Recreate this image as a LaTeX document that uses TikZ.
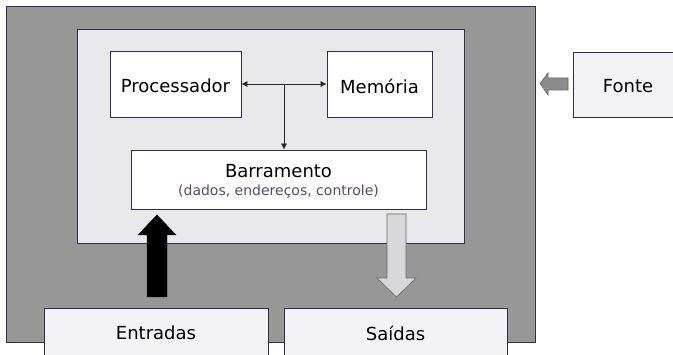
\documentclass[tikz,border=0pt]{standalone}
\usepackage{fontspec}
\setmainfont{DejaVu Sans}
\usetikzlibrary{arrows.meta,calc}
\definecolor{outerfill}{HTML}{979797}
\definecolor{innerfill}{HTML}{E9E8EA}
\definecolor{edge}{HTML}{2E2E48}
\definecolor{boxfill}{HTML}{FFFFFF}
\definecolor{lightbox}{HTML}{F3F3F5}
\definecolor{subtext}{HTML}{5A4868}
\definecolor{arrowgray}{HTML}{D8D8DA}
\begin{document}
\begin{tikzpicture}[x=1pt,y=-1pt,
  panel/.style={draw=edge, line width=0.8pt},
  unit/.style={draw=edge, line width=0.8pt, fill=boxfill, inner sep=0pt, font=\fontsize{18}{20}\selectfont},
  label/.style={font=\fontsize{18}{20}\selectfont, inner sep=0pt},
  thin/.style={draw=black!85, line width=0.6pt},
  tip/.style={-{Latex[length=6pt,width=6pt]}}]
\useasboundingbox (0,0) rectangle (673,355);
% outer system box
\filldraw[panel, fill=outerfill] (6,6) rectangle (535,342);
% inner board
\filldraw[panel, fill=innerfill] (77,29) rectangle (464,243);
% components
\node[unit, minimum width=131pt, minimum height=66pt] (proc) at (175.5,84) {};
\node[label] (proctxt) at (175.5,86) {Processador};
\node[unit, minimum width=105pt, minimum height=66pt] (mem) at (379.5,84) {};
\node[label] (memtxt) at (379.5,86) {Memória};
\node[unit, minimum width=295pt, minimum height=59pt] (bar) at (278.5,179.5) {};
\node[label] (bartitle) at (278.5,171) {Barramento};
\node[font=\fontsize{14}{16}\selectfont, text=subtext, inner sep=0pt] (barsub) at (278.5,192) {(dados, endereços, controle)};
\node[unit, fill=lightbox, minimum width=110pt, minimum height=65pt] (fonte) at (628,84.5) {};
\node[label] (fontetxt) at (628,86) {Fonte};
\node[unit, fill=lightbox, minimum width=224pt, minimum height=60pt] (ent) at (156,338) {};
\node[label] (enttxt) at (156,333) {Entradas};
\node[unit, fill=lightbox, minimum width=223pt, minimum height=60pt] (sai) at (395.5,338) {};
\node[label] (saitxt) at (395.5,333) {Saídas};
% bus connectors
\draw[thin, {Latex[length=6pt,width=6pt]}-{Latex[length=6pt,width=6pt]}] (proc.east) -- (mem.west);
\coordinate (junc) at ($(proc.east)!0.5!(mem.west)$);
\draw[thin, tip] (junc) -- (junc |- bar.north);
% input arrow (black)
\filldraw[black] (147,297) -- (147,235) -- (138,235) -- (157,215) -- (176,235) -- (167,235) -- (167,297) -- cycle;
% output arrow (light)
\filldraw[draw=black!60, fill=arrowgray, line width=0.6pt] (387,214) -- (406,214) -- (406,278) -- (416,278) -- (396.5,297) -- (377,278) -- (387,278) -- cycle;
% power arrow
\filldraw[draw=black!60, fill=black!45, line width=0.6pt] (540,83.5) -- (548,73) -- (548,78) -- (568,78) -- (568,90) -- (548,90) -- (548,95) -- cycle;
\end{tikzpicture}
\end{document}
